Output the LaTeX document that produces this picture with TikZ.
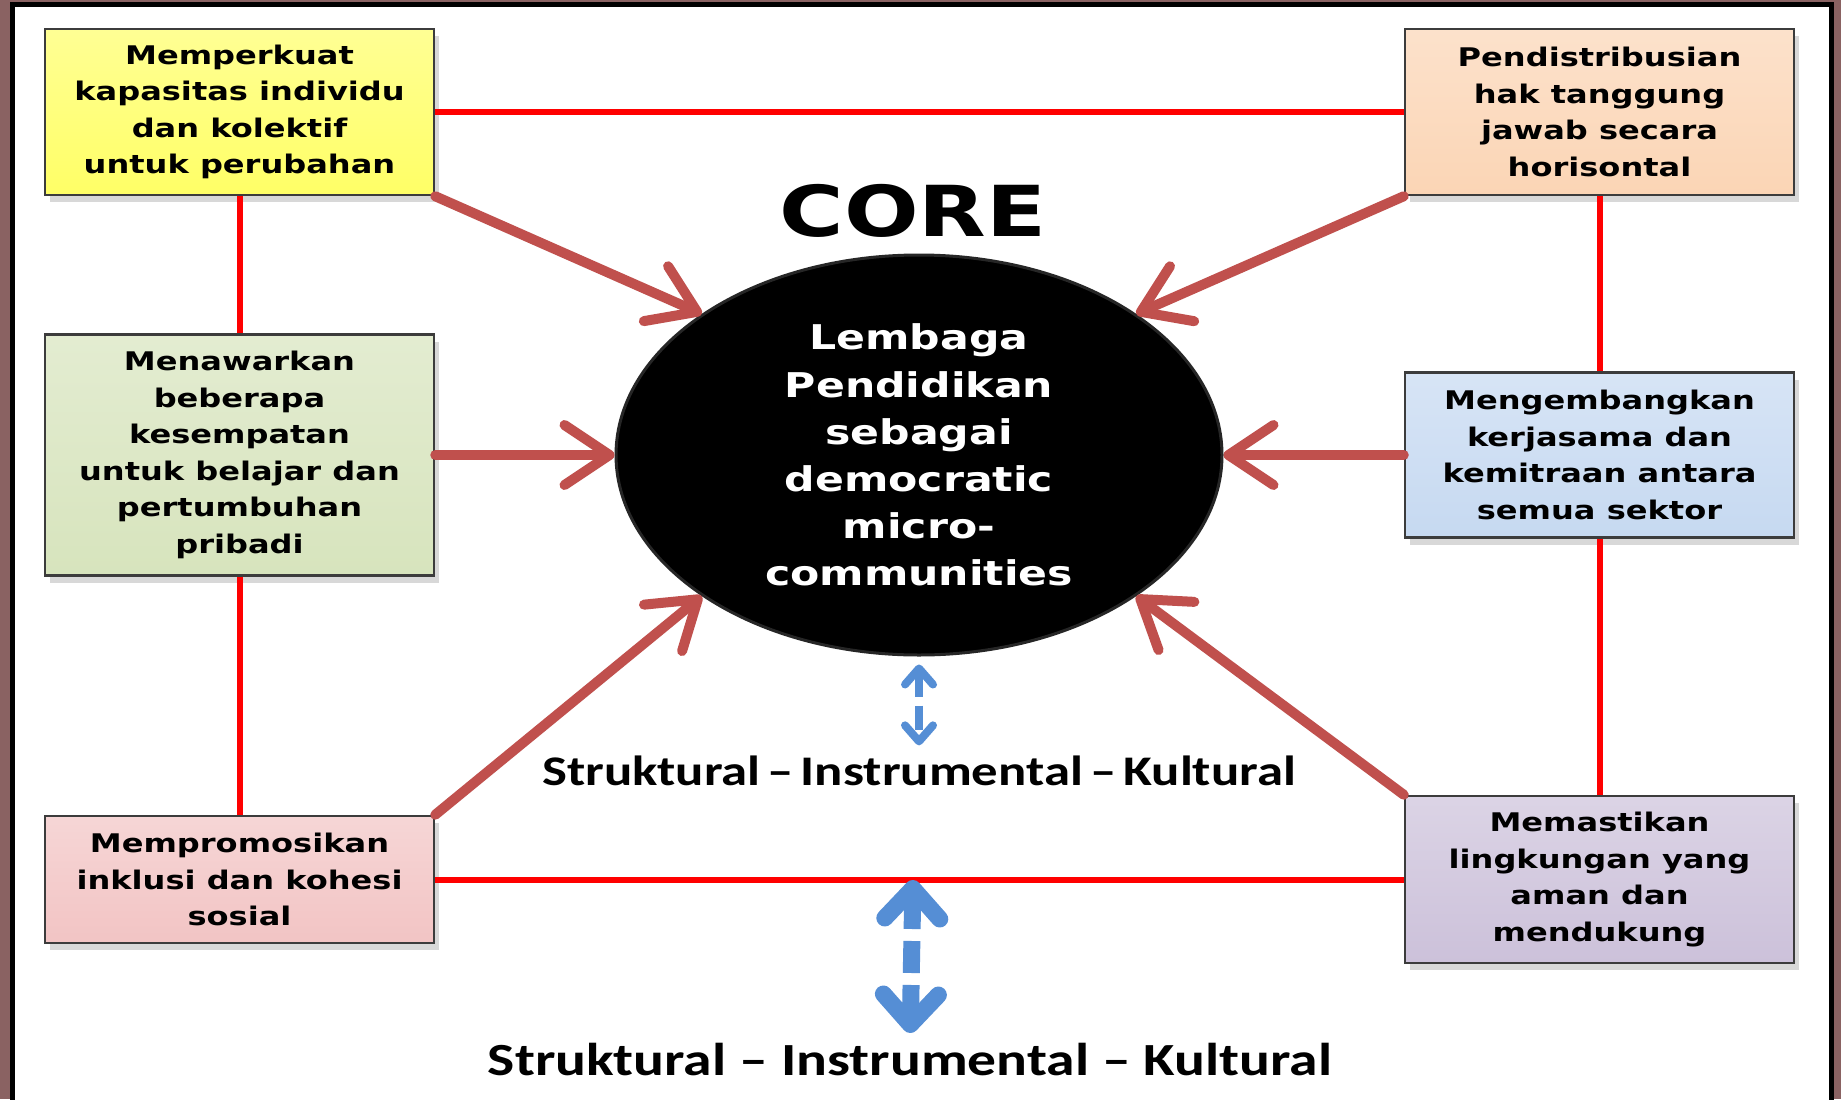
\documentclass[tikz,border=0pt]{standalone}
\usepackage{fontspec}
\setmainfont{DejaVu Sans}
\newfontfamily\cardfont[FakeStretch=1.25]{DejaVu Sans}
\newfontfamily\strukfont[FakeStretch=1.25]{Carlito}
\usetikzlibrary{arrows.meta,shapes.geometric,shadows}
\definecolor{cardyellow}{HTML}{FFFF66}
\definecolor{cardpeach}{HTML}{FBD5B5}
\definecolor{cardgreen}{HTML}{D7E4BD}
\definecolor{cardblue}{HTML}{C6D9F1}
\definecolor{cardpink}{HTML}{F2C4C4}
\definecolor{cardlilac}{HTML}{CCC1DA}
\definecolor{cardedge}{HTML}{3C3C3C}
\definecolor{tieline}{HTML}{FF0000}
\definecolor{pushred}{HTML}{C0504D}
\definecolor{linkblue}{HTML}{558ED5}
\definecolor{photoedge}{HTML}{8A6262}

\begin{document}
\begin{tikzpicture}[
  x=0.1mm,
  y=-0.1mm,
  card/.style={draw=cardedge, line width=0.25mm, top color=#1!70!white,
    bottom color=#1, minimum width=38.9mm, inner sep=0pt, align=center,
    font=\cardfont\bfseries\fontsize{7.3}{10.4}\selectfont,
    drop shadow={opacity=0.3, shadow xshift=0.5mm, shadow yshift=-0.7mm}},
  core/.style={ellipse, fill=black, draw=black!85, line width=0.3mm,
    minimum width=60.6mm, minimum height=40mm, inner sep=0pt, text=white,
    align=center, font=\cardfont\bfseries\fontsize{9.7}{13.4}\selectfont},
  title/.style={font=\cardfont\bfseries\fontsize{20}{24}\selectfont},
  strukmid/.style={inner sep=0pt, font=\strukfont\bfseries\fontsize{12}{14}\selectfont},
  struklow/.style={inner sep=0pt, font=\strukfont\bfseries\fontsize{13.1}{15}\selectfont},
  tie/.style={draw=tieline, line width=0.6mm},
  push/.style={draw=pushred, line width=1mm, line cap=round,
    -{Straight Barb[length=4.5mm,width=6mm,line cap=round,line join=round]}},
  linksmall/.style={draw=linkblue, line width=0.8mm, dash pattern=on 2.4mm off 0.9mm,
    {Straight Barb[length=1.6mm,width=2.8mm,line cap=round,line join=round]}-{Straight Barb[length=1.6mm,width=2.8mm,line cap=round,line join=round]}},
  linkbig/.style={draw=linkblue, line width=1.7mm, dash pattern=on 3.2mm off 1.2mm,
    {Straight Barb[length=3mm,width=5.5mm,line cap=round,line join=round]}-{Straight Barb[length=3mm,width=5.5mm,line cap=round,line join=round]}}
]
  \useasboundingbox (0,0) rectangle (1841,1099);
  \clip (0,0) rectangle (1841,1099);

  % Slide edge and frame.
  \fill[photoedge] (0,0) rectangle (1841,1099);
  \filldraw[fill=white, draw=black, line width=0.5mm] (12,5) rectangle (1831,1130);

  % Six cards round the core.
  \node[card=cardyellow, minimum height=16.6mm] (tl) at (239.5,112)
    {Memperkuat\\kapasitas individu\\dan kolektif\\untuk perubahan};
  \node[card=cardpeach, minimum height=16.6mm] (tr) at (1599.5,112)
    {Pendistribusian\\hak tanggung\\jawab secara\\horisontal};
  \node[card=cardgreen, minimum height=24.1mm] (ml) at (239.5,455)
    {Menawarkan\\beberapa\\kesempatan\\untuk belajar dan\\pertumbuhan\\pribadi};
  \node[card=cardblue, minimum height=16.5mm] (mr) at (1599.5,455)
    {Mengembangkan\\kerjasama dan\\kemitraan antara\\semua sektor};
  \node[card=cardpink, minimum height=12.7mm] (bl) at (239.5,879.5)
    {Mempromosikan\\inklusi dan kohesi\\sosial};
  \node[card=cardlilac, minimum height=16.7mm] (br) at (1599.5,879.5)
    {Memastikan\\lingkungan yang\\aman dan\\mendukung};

  % The core and its labels.
  \node[core] (core) at (919,455)
    {Lembaga\\Pendidikan\\sebagai\\democratic\\micro-\\communities};
  \node[title] (coretitle) at (913,211) {CORE};
  \node[strukmid] (mid) at (919,771)
    {Struktural\,\textendash\,Instrumental\,\textendash\,Kultural};
  \node[struklow] (low) at (910,1059)
    {Struktural \textendash{} Instrumental \textendash{} Kultural};
  \coordinate (gap) at (913,880);

  % Red ring between the cards.
  \draw[tie] (tl) -- (tr);
  \draw[tie] (tl) -- (ml);
  \draw[tie] (ml) -- (bl);
  \draw[tie] (tr) -- (mr);
  \draw[tie] (mr) -- (br);
  \draw[tie] (bl) -- (br);

  % Arrows into the core.
  \draw[push] (tl.south east) -- (core.147);
  \draw[push] (tr.south west) -- (core.33);
  \draw[push] (ml.east) -- (core.west);
  \draw[push] (mr.west) -- (core.east);
  \draw[push] (bl.north east) -- (core.213);
  \draw[push] (br.north west) -- (core.327);

  % Two-way links.
  \draw[linksmall, shorten <=0.8mm, shorten >=1.0mm] (core.south) -- (mid.north);
  \draw[linkbig, shorten >=0.9mm] (gap) -- (low.north);
\end{tikzpicture}
\end{document}
